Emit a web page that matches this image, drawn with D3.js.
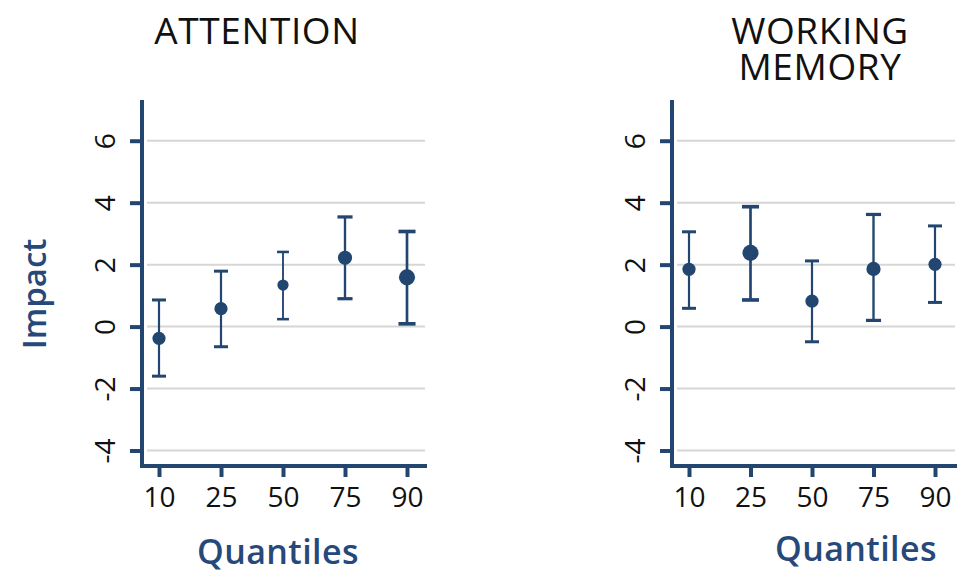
<!DOCTYPE html>
<html>
<head>
<meta charset="utf-8">
<script src="https://cdn.jsdelivr.net/npm/d3@7"></script>
<style>
  html, body { margin: 0; padding: 0; background: #fff; }
  svg { display: block; }
</style>
</head>
<body>
<svg id="chart" width="957" height="573"></svg>
<script>
// ---- data ----
const quantiles = ["10", "25", "50", "75", "90"];
const yTicks = [-4, -2, 0, 2, 4, 6];

const attentionEst   = [-0.38, 0.58, 1.34, 2.22, 1.59];
const attentionLow   = [-1.60, -0.65, 0.24, 0.90, 0.09];
const attentionHigh  = [0.86, 1.79, 2.41, 3.54, 3.07];
const attentionWeight = [1.0, 1.0, 0.85, 1.08, 1.22];

const memoryEst   = [1.85, 2.38, 0.82, 1.86, 2.01];
const memoryLow   = [0.59, 0.86, -0.49, 0.20, 0.78];
const memoryHigh  = [3.06, 3.87, 2.12, 3.62, 3.25];
const memoryWeight = [1.0, 1.22, 1.0, 1.08, 1.0];

const panelTitles = [["ATTENTION"], ["WORKING", "MEMORY"]];
const yLabel = "Impact";
const xLabel = "Quantiles";

// ---- styles ----
const navy = "#22466f";
const labelColor = "#27497a";
const gridColor = "#d6d6d6";
const font = "'Open Sans', 'Noto Sans', sans-serif";

const svg = d3.select("#chart");

const y = d3.scaleLinear().domain([-4.5, 7.25]).range([466, 102]);

const panels = [
  { axisX: 142, right: 425, xr: [159, 407], titleX: 257, est: attentionEst, low: attentionLow, high: attentionHigh, w: attentionWeight, title: panelTitles[0], xlab: { x: 278, y: 564 } },
  { axisX: 672, right: 955, xr: [689, 935], titleX: 820, est: memoryEst, low: memoryLow, high: memoryHigh, w: memoryWeight, title: panelTitles[1], xlab: { x: 856, y: 561 } }
];

panels.forEach(p => {
  const g = svg.append("g");
  const x = d3.scalePoint().domain(quantiles).range(p.xr).padding(0);

  // gridlines
  g.selectAll("line.grid").data(yTicks).join("line")
    .attr("x1", p.axisX + 5).attr("x2", p.right)
    .attr("y1", d => y(d)).attr("y2", d => y(d))
    .attr("stroke", gridColor).attr("stroke-width", 2);

  // y axis
  const ya = g.append("g").attr("transform", `translate(${p.axisX},0)`)
    .call(d3.axisLeft(y).tickValues(yTicks).tickSize(12).tickSizeOuter(0).tickFormat(d => String(d)));
  ya.select(".domain").remove();
  ya.selectAll(".tick line").attr("stroke", navy).attr("stroke-width", 4);
  ya.selectAll(".tick text")
    .attr("x", null).attr("dy", null)
    .attr("transform", "translate(-27,0) rotate(-90)")
    .attr("text-anchor", "middle")
    .attr("fill", "#111")
    .style("font-family", font).style("font-size", "28px");

  // x axis
  const xa = g.append("g").attr("transform", `translate(0,466)`)
    .call(d3.axisBottom(x).tickSize(11).tickSizeOuter(0));
  xa.select(".domain").remove();
  xa.selectAll(".tick line").attr("stroke", navy).attr("stroke-width", 4);
  xa.selectAll(".tick text")
    .attr("y", 41).attr("dy", null)
    .attr("fill", "#111")
    .style("font-family", font).style("font-size", "28px");

  // axis frame lines
  g.append("path")
    .attr("d", `M${p.axisX},102V466H${p.right}`)
    .attr("fill", "none").attr("stroke", navy).attr("stroke-width", 4)
    .attr("stroke-linejoin", "miter").attr("stroke-linecap", "square");

  // error bars
  const data = quantiles.map((q, i) => ({ q, est: p.est[i], low: p.low[i], high: p.high[i], w: p.w[i] }));
  const eg = g.selectAll("g.eb").data(data).join("g");
  eg.append("line")
    .attr("x1", d => x(d.q)).attr("x2", d => x(d.q))
    .attr("y1", d => y(d.low)).attr("y2", d => y(d.high))
    .attr("stroke", navy).attr("stroke-width", d => 2.2 * d.w);
  eg.append("line")
    .attr("x1", d => x(d.q) - 7 * d.w).attr("x2", d => x(d.q) + 7 * d.w)
    .attr("y1", d => y(d.high)).attr("y2", d => y(d.high))
    .attr("stroke", navy).attr("stroke-width", d => 3 * d.w);
  eg.append("line")
    .attr("x1", d => x(d.q) - 7 * d.w).attr("x2", d => x(d.q) + 7 * d.w)
    .attr("y1", d => y(d.low)).attr("y2", d => y(d.low))
    .attr("stroke", navy).attr("stroke-width", d => 3 * d.w);
  eg.append("circle")
    .attr("cx", d => x(d.q)).attr("cy", d => y(d.est))
    .attr("r", d => 6.6 * d.w)
    .attr("fill", navy);

  // title
  const t = svg.append("text")
    .attr("text-anchor", "middle")
    .attr("fill", "#111")
    .style("font-family", font).style("font-size", "37px").style("font-weight", 400)
    .style("letter-spacing", "0.6px");
  p.title.forEach((line, i) => {
    t.append("tspan").attr("x", p.titleX).attr("y", 44 + i * 36).text(line);
  });

  // x label
  svg.append("text")
    .attr("x", p.xlab.x).attr("y", p.xlab.y)
    .attr("text-anchor", "middle")
    .attr("fill", labelColor)
    .style("font-family", font).style("font-size", "34px").style("font-weight", 600)
    .style("letter-spacing", "0.4px")
    .text(xLabel);
});

// y label
svg.append("text")
  .attr("transform", "translate(46,294) rotate(-90)")
  .attr("text-anchor", "middle")
  .attr("fill", labelColor)
  .style("font-family", font).style("font-size", "33px").style("font-weight", 600)
  .text(yLabel);
</script>
</body>
</html>
